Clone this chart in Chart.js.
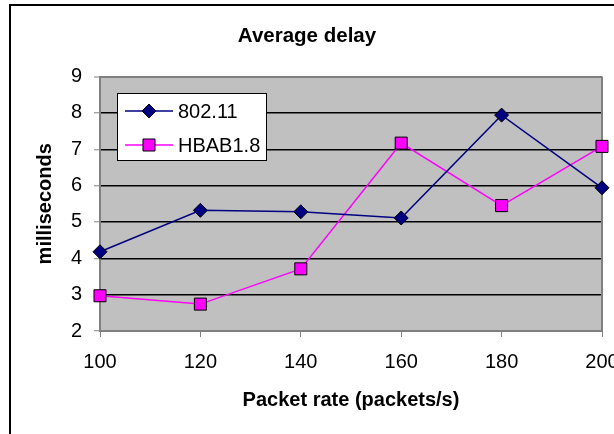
<!DOCTYPE html>
<html>
<head>
<meta charset="utf-8">
<title>Average delay</title>
<script src="https://cdn.jsdelivr.net/npm/chart.js@4.4.1/dist/chart.umd.min.js"></script>
<style>
  html, body { margin: 0; padding: 0; background: #fff; overflow: hidden; }
  #wrap { width: 614px; height: 434px; }
</style>
</head>
<body>
<div id="wrap"><canvas id="delayChart"></canvas></div>
<script>
// data
const packetRates = [100, 120, 140, 160, 180, 200];
const delay80211 = [4.18, 5.32, 5.28, 5.11, 7.94, 5.94];
const delayHBAB = [2.97, 2.74, 3.71, 7.17, 5.45, 7.08];
const seriesNames = ['802.11', 'HBAB1.8'];

const FONT = '"Liberation Sans", Arial, sans-serif';

function toPoints(ys) {
  return packetRates.map((x, i) => ({ x: x, y: ys[i] }));
}

// grey plot area, frame and the outer border of the chart object
const backdrop = {
  id: 'backdrop',
  beforeDraw(chart) {
    const ctx = chart.ctx;
    const a = chart.chartArea;
    ctx.save();
    ctx.fillStyle = '#fff';
    ctx.fillRect(0, 0, chart.width, chart.height);
    ctx.fillStyle = '#000';
    ctx.fillRect(9, 4, chart.width - 9, 2);
    ctx.fillRect(9, 4, 2, chart.height - 4);
    ctx.fillStyle = '#c0c0c0';
    ctx.fillRect(a.left, a.top, a.right - a.left, a.bottom - a.top);
    ctx.restore();
  },
  beforeDatasetsDraw(chart) {
    const ctx = chart.ctx;
    const a = chart.chartArea;
    ctx.save();
    ctx.strokeStyle = '#808080';
    ctx.lineWidth = 2;
    ctx.beginPath();
    ctx.moveTo(a.right, a.top);
    ctx.lineTo(a.right, a.bottom);
    ctx.stroke();
    ctx.restore();
  }
};

function marker(ctx, style, x, y, r, fill) {
  ctx.beginPath();
  if (style === 'rectRot') {
    ctx.moveTo(x, y - r);
    ctx.lineTo(x + r, y);
    ctx.lineTo(x, y + r);
    ctx.lineTo(x - r, y);
    ctx.closePath();
  } else {
    const s = r * Math.SQRT1_2;
    ctx.rect(x - s, y - s, 2 * s, 2 * s);
  }
  ctx.fillStyle = fill;
  ctx.fill();
  ctx.strokeStyle = '#000';
  ctx.lineWidth = 1;
  ctx.stroke();
}

// Excel style legend box inside the plot
const boxLegend = {
  id: 'boxLegend',
  afterDraw(chart) {
    const ctx = chart.ctx;
    const x0 = 117, y0 = 93, w = 149, h = 67;
    ctx.save();
    ctx.fillStyle = '#fff';
    ctx.fillRect(x0, y0, w, h);
    ctx.strokeStyle = '#000';
    ctx.lineWidth = 1;
    ctx.strokeRect(x0 + 0.5, y0 + 0.5, w, h);
    chart.data.datasets.forEach((ds, i) => {
      const y = 111 + i * 34;
      ctx.strokeStyle = ds.borderColor;
      ctx.lineWidth = 1.5;
      ctx.beginPath();
      ctx.moveTo(125, y);
      ctx.lineTo(173, y);
      ctx.stroke();
      marker(ctx, ds.pointStyle, 149, y, ds.pointRadius, ds.pointBackgroundColor);
      ctx.fillStyle = '#000';
      ctx.font = '20px ' + FONT;
      ctx.textBaseline = 'middle';
      ctx.textAlign = 'left';
      ctx.fillText(ds.label, 178, y + 1);
    });
    ctx.restore();
  }
};

const ctx = document.getElementById('delayChart').getContext('2d');

const delayChart = new Chart(ctx, {
  type: 'line',
  data: {
    datasets: [{
      label: seriesNames[0],
      data: toPoints(delay80211),
      borderColor: '#000080',
      borderWidth: 1.5,
      pointStyle: 'rectRot',
      pointRadius: 7,
      pointBackgroundColor: '#000080',
      pointBorderColor: '#000',
      pointBorderWidth: 1,
      tension: 0,
      clip: false
    }, {
      label: seriesNames[1],
      data: toPoints(delayHBAB),
      borderColor: '#ff00ff',
      borderWidth: 1.5,
      pointStyle: 'rect',
      pointRadius: 8.5,
      pointBackgroundColor: '#ff00ff',
      pointBorderColor: '#000',
      pointBorderWidth: 1,
      tension: 0,
      clip: false
    }]
  },
  options: {
    responsive: true,
    maintainAspectRatio: false,
    animation: false,
    events: [],
    layout: { padding: { top: 0, left: 12, right: 12, bottom: 9 } },
    plugins: {
      legend: { display: false },
      tooltip: { enabled: false },
      title: {
        display: true,
        text: 'Average delay',
        color: '#000',
        font: { family: FONT, size: 20.5, weight: 'bold' },
        padding: { top: 24, bottom: 28 }
      }
    },
    scales: {
      x: {
        type: 'linear',
        min: 100,
        max: 200,
        afterFit(scale) { scale.paddingRight = 0; scale.paddingLeft = 0; },
        ticks: {
          stepSize: 20,
          color: '#000',
          padding: 13,
          maxRotation: 0,
          font: { family: FONT, size: 20 }
        },
        grid: {
          drawOnChartArea: false,
          drawTicks: true,
          tickLength: 6,
          tickColor: '#808080',
          tickWidth: 1
        },
        border: { color: '#808080', width: 2 },
        title: {
          display: true,
          text: 'Packet rate (packets/s)',
          color: '#000',
          font: { family: FONT, size: 20, weight: 'bold' },
          padding: { top: 1, bottom: 13 }
        }
      },
      y: {
        min: 2,
        max: 9,
        afterFit(scale) { scale.width = 88; },
        ticks: {
          stepSize: 1,
          color: '#000',
          padding: 12,
          font: { family: FONT, size: 20 }
        },
        grid: {
          color: c => (c.tick && (c.tick.value === 9 || c.tick.value === 2)) ? '#808080' : '#000',
          lineWidth: c => (c.tick && c.tick.value === 9) ? 2 : 1.5,
          tickLength: 6,
          tickColor: '#808080',
          tickWidth: 1
        },
        border: { color: '#808080', width: 2 },
        title: {
          display: true,
          text: 'milliseconds',
          color: '#000',
          font: { family: FONT, size: 20, weight: 'bold' },
          padding: { top: 21, bottom: 0 }
        }
      }
    }
  },
  plugins: [backdrop, boxLegend]
});
</script>
</body>
</html>
